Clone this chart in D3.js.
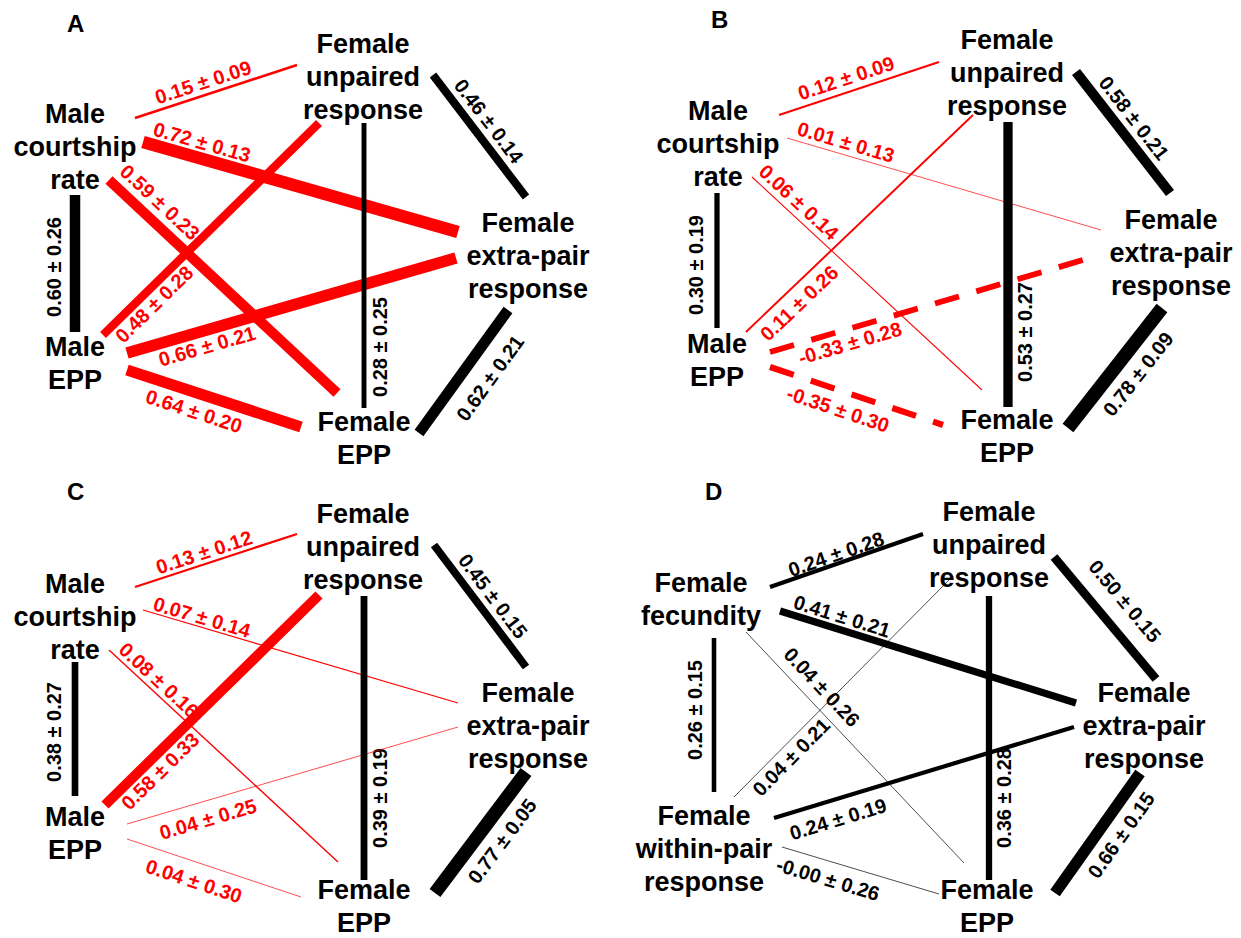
<!DOCTYPE html>
<html>
<head>
<meta charset="utf-8">
<script src="https://cdn.jsdelivr.net/npm/d3@7"></script>
<style>
  body { margin: 0; background: #fff; }
  text { font-family: "Liberation Sans", Arial, sans-serif; font-weight: bold; }
</style>
</head>
<body>
<svg id="fig" width="1241" height="938"></svg>
<script>
// ---------------- data ----------------
const panelLetters = ["A", "B", "C", "D"];

const traitLabels = {
  mc: ["Male", "courtship", "rate"],
  me: ["Male", "EPP"],
  up: ["Female", "unpaired", "response"],
  ep: ["Female", "extra-pair", "response"],
  fe: ["Female", "EPP"],
  ff: ["Female", "fecundity"],
  wp: ["Female", "within-pair", "response"]
};
const traitSex = { mc: "m", me: "m", up: "f", ep: "f", fe: "f", ff: "f", wp: "f" };

// trait pairs, in the order the estimates below are listed
const pairsMale = [["mc","up"],["mc","ep"],["mc","fe"],["me","up"],["me","ep"],["me","fe"],
                   ["mc","me"],["up","fe"],["up","ep"],["ep","fe"]];
const pairsFemale = [["ff","up"],["ff","ep"],["ff","fe"],["wp","up"],["wp","ep"],["wp","fe"],
                     ["ff","wp"],["up","fe"],["up","ep"],["ep","fe"]];

// genetic correlations (estimate ± SE)
const corrA = [0.15, 0.72, 0.59, 0.48, 0.66, 0.64, 0.60, 0.28, 0.46, 0.62];
const seA   = [0.09, 0.13, 0.23, 0.28, 0.21, 0.20, 0.26, 0.25, 0.14, 0.21];
const corrB = [0.12, 0.01, 0.06, 0.11, -0.33, -0.35, 0.30, 0.53, 0.58, 0.78];
const seB   = [0.09, 0.13, 0.14, 0.26, 0.28, 0.30, 0.19, 0.27, 0.21, 0.09];
const corrC = [0.13, 0.07, 0.08, 0.58, 0.04, 0.04, 0.38, 0.39, 0.45, 0.77];
const seC   = [0.12, 0.14, 0.16, 0.33, 0.25, 0.30, 0.27, 0.19, 0.15, 0.05];
const corrD = [0.24, 0.41, 0.04, 0.04, 0.24, -0.00, 0.26, 0.36, 0.50, 0.66];
const seD   = [0.28, 0.21, 0.26, 0.21, 0.19, 0.26, 0.15, 0.28, 0.15, 0.15];

// ---------------- layout (panel-local px) ----------------
// node: [centre x, first baseline]; ends: edge attach points; tags: label centres
const layoutA = {
  origin: [0, 0], letterAt: [67, 32],
  nodes: { up: [363, 53], mc: [75, 123], ep: [528, 232], me: [75, 356], fe: [364, 431] },
  ends: [[135,118,297,65],[143,142,458,232],[109,180,337,393],[103,335,319,123],[127,353,456,258],
         [127,370,301,427],[75,195,75,332],[364,123,364,408],[433,75,526,197],[508,310,419,433]],
  tags: [[203,82],[202,142],[160,202],[154,304],[207,346],[194,411],[54,267],[380,347],[489,121],[490,378]]
};
const layoutB = {
  origin: [620, 0], letterAt: [91, 28],
  nodes: { up: [387, 49], mc: [98, 120], ep: [551, 229], me: [97, 353], fe: [387, 429] },
  ends: [[159,115,319,62],[167,138,481,230],[132,177,362,390],[126,332,353,115],[150,352,480,255],
         [150,367,323,425],[97,193,97,328],[388,122,388,407],[456,72,550,193],[542,308,448,428]],
  tags: [[226,78],[226,142],[179,202],[179,303],[230,343],[218,409],[76,265],[405,332],[514,118],[518,374]]
};
const layoutC = {
  origin: [0, 470], letterAt: [67, 30],
  nodes: { up: [363, 53], mc: [75, 123], ep: [528, 232], me: [75, 356], fe: [364, 429] },
  ends: [[135,117,297,64],[143,140,458,233],[109,180,338,392],[105,335,319,125],[127,354,458,257],
         [127,369,301,427],[75,192,75,326],[364,126,364,410],[434,75,526,197],[526,302,435,423]],
  tags: [[204,82],[202,147],[159,210],[160,301],[208,349],[194,411],[54,262],[380,328],[493,126],[502,371]]
};
const layoutD = {
  origin: [620, 470], letterAt: [85, 30],
  nodes: { up: [369, 51], ff: [81, 122], ep: [524, 232], fe: [367, 429], wp: [84, 355] },
  ends: [[150,117,303,64],[160,141,456,233],[126,162,344,393],[114,327,329,110],[154,348,454,257],
         [162,377,319,424],[94,168,94,322],[369,126,369,410],[434,87,536,209],[520,303,435,423]],
  tags: [[216,84],[222,146],[202,217],[171,287],[218,349],[208,409],[75,240],[384,328],[505,131],[501,365]]
};

const panels = [
  { letter: panelLetters[0], pairs: pairsMale,   r: corrA, se: seA, layout: layoutA },
  { letter: panelLetters[1], pairs: pairsMale,   r: corrB, se: seB, layout: layoutB },
  { letter: panelLetters[2], pairs: pairsMale,   r: corrC, se: seC, layout: layoutC },
  { letter: panelLetters[3], pairs: pairsFemale, r: corrD, se: seD, layout: layoutD }
];

// ---------------- drawing ----------------
const svg = d3.select("#fig");
const strokeW = d3.scaleLinear().domain([0, 1]).range([0, 17.5]);
const fmt = v => ((v < 0 || Object.is(v, -0)) ? "-" : "") + Math.abs(v).toFixed(2);
const lineHeight = 33;

panels.forEach(p => {
  const L = p.layout;
  const g = svg.append("g").attr("transform", `translate(${L.origin[0]},${L.origin[1]})`);

  g.append("text")
    .attr("x", L.letterAt[0]).attr("y", L.letterAt[1])
    .attr("font-size", 24).text(p.letter);

  // trait names
  Object.entries(L.nodes).forEach(([id, [cx, by]]) => {
    const t = g.append("text").attr("text-anchor", "middle").attr("font-size", 27);
    traitLabels[id].forEach((line, i) =>
      t.append("tspan").attr("x", cx).attr("y", by + i * lineHeight).text(line));
  });

  const edges = p.pairs.map((pair, i) => {
    const [x1, y1, x2, y2] = L.ends[i];
    const between = traitSex[pair[0]] !== traitSex[pair[1]];
    return {
      r: p.r[i], se: p.se[i], x1, y1, x2, y2,
      tag: L.tags[i],
      colour: between ? "#ff0000" : "#000000",
      dashed: p.r[i] < 0
    };
  });

  // estimate labels, rotated along their edge
  g.selectAll("text.est").data(edges).join("text")
    .attr("class", "est")
    .attr("font-size", 20)
    .attr("text-anchor", "middle")
    .attr("dy", "0.36em")
    .attr("fill", d => d.colour)
    .attr("transform", d => {
      let a = Math.atan2(d.y2 - d.y1, d.x2 - d.x1) * 180 / Math.PI;
      if (a >= 90) a -= 180;
      if (a < -90) a += 180;
      return `translate(${d.tag[0]},${d.tag[1]}) rotate(${a})`;
    })
    .text(d => `${fmt(d.r)} ± ${d.se.toFixed(2)}`);

  // edges: red solid, then black, then dashed on top
  const order = d => (d.dashed ? 2 : d.colour === "#000000" ? 1 : 0);
  g.selectAll("line.edge").data(edges.slice().sort((a, b) => order(a) - order(b))).join("line")
    .attr("class", "edge")
    .attr("x1", d => d.x1).attr("y1", d => d.y1)
    .attr("x2", d => d.x2).attr("y2", d => d.y2)
    .attr("stroke", d => d.colour)
    .attr("stroke-width", d => Math.max(0.7, strokeW(Math.abs(d.r))))
    .attr("stroke-dasharray", d => d.dashed ? "25,18" : null)
    .attr("stroke-linecap", "butt");
});
</script>
</body>
</html>
